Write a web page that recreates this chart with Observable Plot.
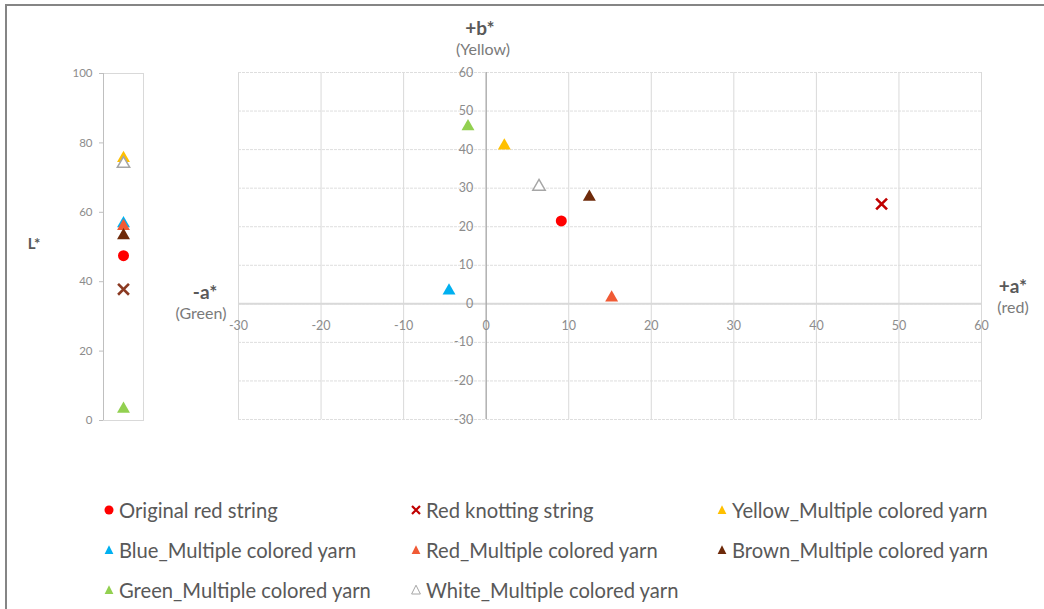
<!DOCTYPE html>
<html>
<head>
<meta charset="utf-8">
<script src="https://cdn.jsdelivr.net/npm/d3@7"></script>
<script src="https://cdn.jsdelivr.net/npm/@observablehq/plot@0.6"></script>
<style>
  html, body { margin: 0; padding: 0; background: #fff; }
  #wrap { position: relative; width: 1044px; height: 609px; overflow: hidden; font-family: Lato, "Open Sans", sans-serif; }
  #wrap svg { position: absolute; overflow: visible; }
  .frameTop { position: absolute; left: 5px; top: 4px; width: 1039px; height: 2px; background: #858585; }
  .frameLeft { position: absolute; left: 5px; top: 4px; width: 2px; height: 605px; background: #858585; }
  .t { position: absolute; transform: translate(-50%, -50%); white-space: nowrap; color: #595959; }
  .tb { font-weight: bold; font-size: 19px; }
  .ts { font-size: 16px; color: #7a7a7a; }
  .leg { position: absolute; font-size: 20.2px; color: #595959; white-space: nowrap; display: flex; align-items: center; transform: translateY(-50%); }
  .leg svg { position: static !important; margin-right: 4px; }
</style>
</head>
<body>
<div id="wrap">
  <div class="frameTop"></div>
  <div class="frameLeft"></div>
</div>
<script>
// ---- data ----
const series = [
  "Original red string",
  "Red knotting string",
  "Yellow_Multiple colored yarn",
  "Blue_Multiple colored yarn",
  "Red_Multiple colored yarn",
  "Brown_Multiple colored yarn",
  "Green_Multiple colored yarn",
  "White_Multiple colored yarn"
];
const lStar = [47.5, 37.8, 75.6, 56.8, 56.0, 53.3, 3.3, 74.0];
const aStar = [9.1, 47.9, 2.2, -4.5, 15.2, 12.5, -2.2, 6.4];
const bStar = [21.5, 25.9, 41.0, 3.4, 1.6, 27.7, 46.0, 30.4];
const lTicks = [0, 20, 40, 60, 80, 100];
const aTicks = [-30, -20, -10, 0, 10, 20, 30, 40, 50, 60];
const bTicks = [-30, -20, -10, 0, 10, 20, 30, 40, 50, 60];

// ---- styles ----
const colors = ["#ff0000", "#c00000", "#ffc000", "#00b0f0", "#f05a35", "#6e2a0a", "#92d050", "#ffffff"];
const leftColors = ["#ff0000", "#8b3a22", "#ffc000", "#00b0f0", "#f05a35", "#6e2a0a", "#92d050", "#ffffff"];
const symbols = ["circle", "times", "triangle", "triangle", "triangle", "triangle", "triangle", "triangle"];

function dotFor(i, x, y, cols) {
  const rows = [{x, y}];
  const sym = symbols[i];
  if (sym === "circle") return Plot.dot(rows, {x: "x", y: "y", r: 5.5, fill: cols[i], stroke: "none"});
  if (sym === "times") return Plot.dot(rows, {x: "x", y: "y", symbol: "times", r: 5, stroke: cols[i], strokeWidth: 2.6, fill: "none"});
  if (i === 7) return Plot.dot(rows, {x: "x", y: "y", symbol: "triangle", r: 4.6, fill: "#ffffff", stroke: "#a6a6a6", strokeWidth: 1.5});
  return Plot.dot(rows, {x: "x", y: "y", symbol: "triangle", r: 4.8, fill: cols[i], stroke: "none"});
}

const wrap = document.getElementById("wrap");

// ---- left panel: L* ----
const left = Plot.plot({
  width: 160, height: 440,
  marginTop: 73, marginBottom: 20, marginLeft: 103, marginRight: 17,
  style: {fontFamily: "Lato, 'Open Sans', sans-serif", fontSize: "11.5px", background: "transparent", overflow: "visible"},
  x: {domain: [0, 1], axis: null},
  y: {domain: [0, 100], axis: null},
  marks: [
    Plot.frame({stroke: "#d9d9d9"}),
    Plot.ruleX([0], {stroke: "#bfbfbf"}),
    Plot.axisY(lTicks, {tickSize: 4, tickPadding: 7, stroke: "#bfbfbf", color: "#8c8c8c", fill: "#8c8c8c", label: null, anchor: "left"}),
    ...series.map((s, i) => dotFor(i, 0.5, lStar[i], leftColors))
  ]
});
left.style.left = "0px"; left.style.top = "0px";
wrap.appendChild(left);

// ---- right panel: a* b* ----
const right = Plot.plot({
  width: 874, height: 440,
  marginTop: 72, marginBottom: 21, marginLeft: 68, marginRight: 63,
  style: {fontFamily: "Lato, 'Open Sans', sans-serif", fontSize: "12.5px", background: "transparent", overflow: "visible"},
  x: {domain: [-30, 60], axis: null},
  y: {domain: [-30, 60], axis: null},
  marks: [
    Plot.gridX(aTicks, {stroke: "#d9d9d9", strokeOpacity: 1}),
    Plot.gridY(bTicks, {stroke: "#dedede", strokeOpacity: 1, strokeDasharray: "3,1"}),
    Plot.ruleY([0], {stroke: "#d9d9d9", strokeWidth: 2}),
    Plot.ruleX([0], {stroke: "#9a9a9a", strokeWidth: 1}),
    Plot.text(bTicks, {x: 0, y: d => d, text: d => String(d), textAnchor: "end", dx: -13, fill: "#8c8c8c"}),
    Plot.text(aTicks, {x: d => d, y: 0, text: d => String(d), dy: 22, fill: "#8c8c8c"}),
    ...series.map((s, i) => dotFor(i, aStar[i], bStar[i], colors))
  ]
});
right.style.left = "170px"; right.style.top = "0px";
wrap.appendChild(right);

// ---- axis titles ----
const titles = [
  ["+b*", 480, 27, "tb"], ["(Yellow)", 483, 48, "ts"],
  ["-a*", 205, 291, "tb"], ["(Green)", 201, 312, "ts"],
  ["+a*", 1013, 285, "tb"], ["(red)", 1013, 306, "ts"],
  ["L*", 34, 243, "tb"]
];
titles.forEach(([txt, x, y, cls]) => {
  const d = document.createElement("div");
  d.className = "t " + cls;
  d.textContent = txt;
  d.style.left = x + "px"; d.style.top = y + "px";
  if (txt === "L*") d.style.fontSize = "15px";
  wrap.appendChild(d);
});

// ---- legend ----
const colX = [103, 410, 716];
const rowY = [510, 550, 590];
function legendMarker(i) {
  const ns = "http://www.w3.org/2000/svg";
  const svg = document.createElementNS(ns, "svg");
  svg.setAttribute("width", 12); svg.setAttribute("height", 12);
  svg.setAttribute("viewBox", "-6 -6 12 12");
  let el;
  if (symbols[i] === "circle") {
    el = document.createElementNS(ns, "circle");
    el.setAttribute("r", 4.5); el.setAttribute("fill", colors[i]);
  } else if (symbols[i] === "times") {
    el = document.createElementNS(ns, "path");
    el.setAttribute("d", "M-4,-4L4,4M-4,4L4,-4");
    el.setAttribute("stroke", colors[i]); el.setAttribute("stroke-width", 2.2); el.setAttribute("fill", "none");
  } else {
    el = document.createElementNS(ns, "path");
    el.setAttribute("d", "M0,-4.8L4.4,4L-4.4,4Z");
    if (i === 7) { el.setAttribute("fill", "#fff"); el.setAttribute("stroke", "#a6a6a6"); el.setAttribute("stroke-width", 1); }
    else el.setAttribute("fill", colors[i]);
  }
  svg.appendChild(el);
  return svg;
}
series.forEach((s, i) => {
  const d = document.createElement("div");
  d.className = "leg";
  d.style.left = colX[i % 3] + "px";
  d.style.top = rowY[Math.floor(i / 3)] + "px";
  d.appendChild(legendMarker(i));
  const sp = document.createElement("span");
  sp.textContent = s;
  d.appendChild(sp);
  wrap.appendChild(d);
});
</script>
</body>
</html>
